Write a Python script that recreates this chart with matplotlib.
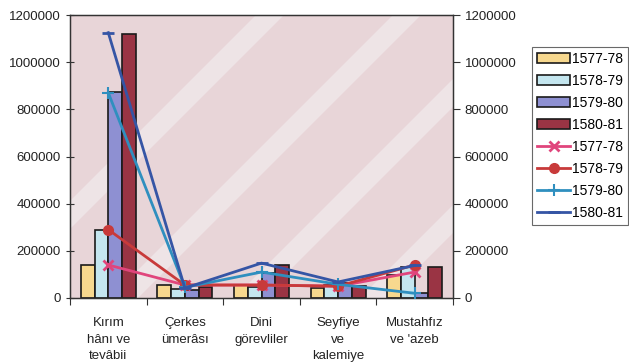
import matplotlib
matplotlib.use("Agg")
import matplotlib.pyplot as plt
from matplotlib.patches import Polygon
import numpy as np

plt.rcParams['font.family'] = ['Liberation Sans', 'DejaVu Sans']

categories = ["Kırım\nhânı ve\ntevâbii", "Çerkes\nümerâsı", "Dini\ngörevliler",
              "Seyfiye\nve\nkalemiye", "Mustahfız\nve 'azeb"]
series_names = ["1577-78", "1578-79", "1579-80", "1580-81"]

bar_1577 = [140000, 55000, 55000, 42000, 98000]
bar_1578 = [290000, 38000, 45000, 55000, 132000]
bar_1579 = [875000, 34000, 106000, 62000, 22000]
bar_1580 = [1120000, 47000, 140000, 50000, 132000]

line_1577 = [140000, 55000, 55000, 50000, 110000]
line_1578 = [290000, 55000, 55000, 50000, 140000]
line_1579 = [870000, 45000, 110000, 58000, 20000]
line_1580 = [1125000, 42000, 148000, 68000, 138000]

yticks = [0, 200000, 400000, 600000, 800000, 1000000, 1200000]

bar_colors = ['#f7d88e', '#c4e6ef', '#8e90d2', '#9a3444']
line_styles = [
    dict(color='#e0457c', marker='x', ms=7, mew=2),
    dict(color='#c83a3a', marker='o', ms=7),
    dict(color='#2f8fbf', marker='+', ms=9, mew=1.5),
    dict(color='#3555a5', marker='_', ms=8, mew=2),
]

W, H = 629, 364
fig = plt.figure(figsize=(W / 100, H / 100), dpi=100)
fig.patch.set_facecolor('white')
ax = fig.add_axes([70 / W, 1 - 298 / H, 383 / W, 283 / H])
ax.set_facecolor('#e8d5d8')

# faint diagonal light bands of the scanned background
for c, bw in [(285, 28), (422, 28), (546, 28), (672, 28)]:
    c1, c2 = c - bw / 2, c + bw / 2
    pts = [(c1, 0), (c1 - H, H), (c2 - H, H), (c2, 0)]
    poly = Polygon([(px / W, 1 - py / H) for px, py in pts], closed=True,
                   transform=fig.transFigure, facecolor='#f1ebec', edgecolor='none',
                   alpha=0.7, zorder=0.5)
    ax.add_patch(poly)
    poly.set_clip_path(ax.patch)

x = np.arange(len(categories))
w = 0.18
bars = [bar_1577, bar_1578, bar_1579, bar_1580]
handles = []
for i, (vals, c) in enumerate(zip(bars, bar_colors)):
    h = ax.bar(x + (i - 1.5) * w, vals, width=w, color=c, edgecolor='#1a1a1a',
               linewidth=1.2, label=series_names[i], zorder=2)
    handles.append(h)

ax.set_xlim(-0.5, len(categories) - 0.5)
ax.set_ylim(0, 1200000)
ax.set_yticks(yticks)
ax.set_yticklabels([str(v) for v in yticks], fontsize=9.5, color='#222222')
ax.set_xticks(np.arange(len(categories) + 1) - 0.5)
ax.set_xticklabels([])
ax.tick_params(axis='x', direction='out', length=5, color='#333333')
ax.tick_params(axis='y', direction='inout', length=6, color='#333333')
ax.set_xticks(x, minor=True)
ax.set_xticklabels(categories, minor=True, fontsize=9.5, color='#222222',
                   linespacing=1.5)
ax.tick_params(axis='x', which='minor', length=0, pad=14)
for s in ax.spines.values():
    s.set_color('#333333')
    s.set_linewidth(1.0)

ax2 = ax.twinx()
ax2.set_ylim(0, 1200000)
ax2.set_yticks(yticks)
ax2.set_yticklabels([str(v) for v in yticks], fontsize=9.5, color='#222222')
ax2.tick_params(axis='y', direction='out', length=5, color='#333333')
for s in ax2.spines.values():
    s.set_color('#333333')
lines = [line_1577, line_1578, line_1579, line_1580]
for i, (vals, st) in enumerate(zip(lines, line_styles)):
    h, = ax2.plot(x, vals, lw=2, label=series_names[i], zorder=3, **st)
    handles.append(h)

leg = fig.legend(handles=handles, labels=series_names * 2, loc='upper left',
                 bbox_to_anchor=(532 / W, 1 - 47 / H), fontsize=10, frameon=True,
                 fancybox=False, edgecolor='#444444', handlelength=2.4,
                 handletextpad=0.15, labelspacing=0.58, borderpad=0.35,
                 borderaxespad=0)
leg.get_frame().set_linewidth(0.8)

fig.savefig('out.png', dpi=100, facecolor='white')
